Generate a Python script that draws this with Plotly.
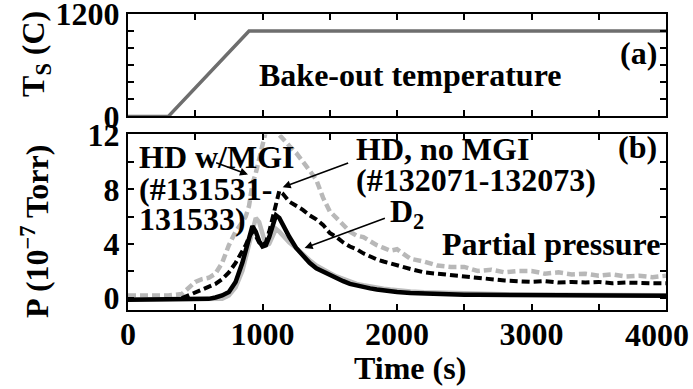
import plotly.graph_objects as go

# ---------------- data ----------------
# (a) bake-out temperature
temp_t = [0, 300, 900, 4000]
temp_c = [0, 0, 1000, 1000]

# (b) partial pressures (1e-7 Torr)
t = [0, 100, 200, 300, 400, 450, 500, 550, 600, 650, 700, 750, 800, 850,
     875, 900, 925, 950, 975, 1000, 1025, 1050, 1075, 1100, 1125, 1150, 1175, 1200,
     1250, 1300, 1350, 1400, 1450, 1500, 1550, 1600, 1650, 1700, 1750, 1800, 1850,
     1900, 1950, 2000, 2100, 2200, 2300, 2400, 2500, 2600, 2700, 2800, 2900, 3000,
     3100, 3200, 3300, 3400, 3500, 3600, 3700, 3800, 3900, 4000]

hd_mgi = [0.2, 0.2, 0.2, 0.2, 0.3, 0.7, 1.2, 1.4, 1.5, 1.8, 2.6, 3.9, 4.9, 5.6,
          6.0, 6.8, 8.4, 9.2, 10.2, 11.5, 12.3, 12.4, 12.5, 12.3, 12.0, 11.8, 11.5, 11.2,
          10.7, 10.1, 9.4, 8.7, 7.4, 6.4, 5.9, 5.3, 4.9, 4.6, 4.5, 4.2, 3.9,
          3.7, 3.5, 3.6, 2.9, 2.7, 2.4, 2.3, 2.3, 2.0, 2.1, 1.9, 2.0, 2.0,
          1.8, 1.9, 1.75, 1.8, 1.65, 1.75, 1.6, 1.65, 1.55, 1.65]

d2_mgi = [-0.1, -0.1, -0.1, -0.1, -0.1, -0.1, -0.1, -0.1, -0.1, -0.1, -0.05, 0.2, 0.8, 2.0,
          2.9, 3.8, 4.8, 5.9, 5.6, 4.6, 3.9, 4.0, 4.6, 5.1, 4.9, 4.6, 4.3, 4.1,
          3.7, 3.2, 2.8, 2.4, 2.1, 1.85, 1.6, 1.4, 1.2, 1.05, 0.95, 0.85, 0.77,
          0.7, 0.64, 0.58, 0.5, 0.44, 0.4, 0.36, 0.33, 0.31, 0.29, 0.28, 0.27, 0.26,
          0.25, 0.25, 0.24, 0.24, 0.23, 0.23, 0.22, 0.22, 0.22, 0.21]

hd_nomgi_t = t[4:]
hd_nomgi = [0.0, 0.2, 0.45, 0.65, 0.85, 1.05, 1.4, 1.9, 2.6, 3.4,
            3.9, 4.5, 4.9, 4.6, 4.1, 3.9, 4.1, 4.9, 5.9, 7.1, 7.9, 7.7, 7.4, 7.1,
            6.8, 6.5, 6.1, 5.8, 5.4, 4.8, 4.5, 4.1, 3.8, 3.6, 3.3, 3.05, 2.85,
            2.7, 2.55, 2.45, 2.15, 1.9, 1.8, 1.65, 1.6, 1.45, 1.38, 1.3, 1.25, 1.2,
            1.25, 1.15, 1.2, 1.15, 1.2, 1.1, 1.15, 1.1, 1.1, 1.1]

d2_nomgi = [-0.12, -0.12, -0.12, -0.12, -0.12, -0.12, -0.1, -0.08, -0.05, 0.05, 0.2, 0.45, 1.2, 2.6,
            3.6, 4.6, 5.3, 4.9, 4.2, 3.8, 3.9, 4.5, 5.4, 6.1, 5.9, 5.4, 4.9, 4.5,
            3.7, 3.1, 2.6, 2.2, 1.95, 1.7, 1.45, 1.25, 1.05, 0.92, 0.82, 0.72, 0.64,
            0.57, 0.5, 0.45, 0.39, 0.34, 0.31, 0.28, 0.26, 0.25, 0.24, 0.23, 0.22, 0.22,
            0.21, 0.21, 0.2, 0.2, 0.2, 0.19, 0.19, 0.18, 0.18, 0.18]

x_ticks = [0, 500, 1000, 1500, 2000, 2500, 3000, 3500, 4000]
x_labels = ['0', '', '1000', '', '2000', '', '3000', '', '']
last_x_label = '4000'
ta_ticks = [0, 200, 400, 600, 800, 1000, 1200]
ta_labels = ['0', '', '', '', '', '', '1200']
pb_ticks = [0, 2, 4, 6, 8, 10, 12]
pb_labels = ['0', '', '4', '', '8', '', '12']

FONT = "Liberation Serif"
FS = 32

fig = go.Figure()
fig.add_trace(go.Scatter(x=temp_t, y=temp_c, mode='lines', xaxis='x', yaxis='y',
                         line=dict(color='#6e6e6e', width=3.5)))
fig.add_trace(go.Scatter(x=t, y=d2_mgi, mode='lines', xaxis='x2', yaxis='y2',
                         line=dict(color='#bdbdbd', width=4.5)))
fig.add_trace(go.Scatter(x=t, y=hd_mgi, mode='lines', xaxis='x2', yaxis='y2',
                         line=dict(color='#b8b8b8', width=4.5, dash='8px,4px')))
fig.add_trace(go.Scatter(x=hd_nomgi_t, y=hd_nomgi, mode='lines', xaxis='x2', yaxis='y2',
                         line=dict(color='black', width=4, dash='8px,4px')))
fig.add_trace(go.Scatter(x=t, y=d2_nomgi, mode='lines', xaxis='x2', yaxis='y2',
                         line=dict(color='black', width=4.5)))

axis_common = dict(showgrid=False, zeroline=False, showline=True, linecolor='black',
                   linewidth=2, mirror='ticks', ticks='inside', ticklen=6, tickwidth=1.5,
                   tickcolor='black', automargin=False, ticklabeloverflow='allow',
                   tickfont=dict(family=FONT, size=FS, color='black', weight='bold'))

fig.update_layout(
    width=693, height=389, margin=dict(l=128, r=27, t=14, b=79, autoexpand=False),
    paper_bgcolor='white', plot_bgcolor='white', showlegend=False,
    xaxis=dict(domain=[0, 1], anchor='y', range=[0, 4000], tickmode='array',
               tickvals=x_ticks, showticklabels=False, **axis_common),
    yaxis=dict(domain=[0.654, 1], anchor='x', range=[0, 1200], tickmode='array',
               tickvals=ta_ticks, ticktext=ta_labels, **axis_common),
    xaxis2=dict(domain=[0, 1], anchor='y2', range=[0, 4000], tickmode='array',
                tickvals=x_ticks, ticktext=x_labels, ticklabelstandoff=-5, **axis_common),
    yaxis2=dict(domain=[0, 0.593], anchor='x2', range=[-0.87, 12.05], tickmode='array',
                tickvals=pb_ticks, ticktext=pb_labels, **axis_common),
)

def txt(s, x, y, xref='x2', yref='y2', xanchor='left', angle=0):
    fig.add_annotation(text='<b>' + s + '</b>', x=x, y=y, xref=xref, yref=yref,
                       xanchor=xanchor, yanchor='middle', showarrow=False, textangle=angle,
                       font=dict(family=FONT, size=FS, color='black'))

def arrow(x, y, ax, ay):
    fig.add_annotation(text='', x=x, y=y, ax=ax, ay=ay, xref='x2', yref='y2',
                       axref='x2', ayref='y2', showarrow=True, arrowhead=2,
                       arrowsize=1, arrowwidth=1.6, arrowcolor='black')

# panel (a) texts
txt('Bake-out temperature', 2100, 490, xref='x', yref='y', xanchor='center')
txt('(a)', 3945, 740, xref='x', yref='y', xanchor='right')

# panel (b) texts
txt('HD w/MGI', 65, 10.4)
txt('(#131531-', 65, 8.0)
txt('131533)', 65, 5.8)
txt('HD, no MGI', 1680, 11.0)
txt('(#132071-132073)', 1680, 8.7)
txt('D<sub>2</sub>', 1930, 6.2)
txt('Partial pressure', 2320, 4.0)
txt('(b)', 3945, 11.1, xanchor='right')

arrow(892, 9.1, 644, 10.0)
arrow(1150, 8.17, 1648, 10.0)
arrow(1313, 3.7, 1921, 5.93)

# last x tick label (shifted inward as in the original)
txt(last_x_label, 3930, -0.083, yref='paper', xanchor='center')

# axis titles
txt('T<sub>S</sub> (C)', -0.171, 0.865, xref='paper', yref='paper', xanchor='center', angle=-90)
txt('P (10<sup>−7</sup> Torr)', -0.173, 0.267, xref='paper', yref='paper', xanchor='center', angle=-90)
txt('Time (s)', 0.524, -0.196, xref='paper', yref='paper', xanchor='center')

fig.write_html("out.html")
